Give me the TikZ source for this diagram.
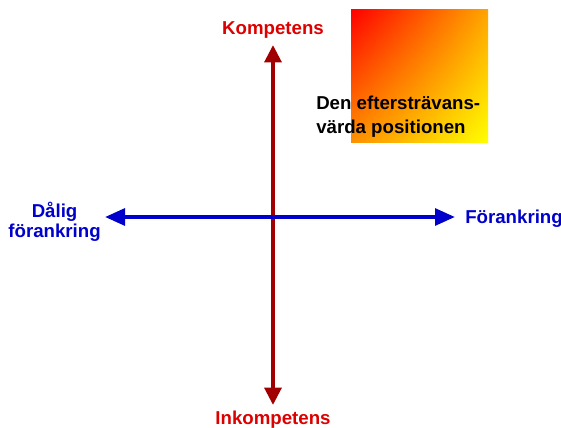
\documentclass[tikz,border=0pt]{standalone}
\usepackage{fontspec}
\setmainfont{Liberation Sans}
\usetikzlibrary{arrows.meta,shadings}
\definecolor{kompred}{RGB}{221,0,0}
\definecolor{axisred}{RGB}{160,0,0}
\definecolor{ankblue}{RGB}{0,0,204}
\definecolor{goalorange}{RGB}{255,165,0}
\definecolor{goalorangeb}{RGB}{255,145,0}

\begin{document}
\begin{tikzpicture}[x=0.75pt, y=-0.75pt,
    lbl/.style={font=\fontsize{14}{15}\selectfont\bfseries, inner sep=0pt},
    axisarrow/.style={line width=3pt, {Triangle[length=#1,width=12.5pt]}-{Triangle[length=#1,width=12.5pt]}}]
  \useasboundingbox (0,0) rectangle (561,428);
  % desired region
  \shade[upper left=red, upper right=goalorange, lower left=goalorangeb, lower right=yellow]
        (351,10) rectangle (488,143);
  \node[lbl, anchor=north west, align=left, font=\fontsize{14}{18}\selectfont\bfseries] (goal) at (316,96)
        {Den eftersträvans-\\värda positionen};
  % labels
  \node[lbl, kompred, anchor=base] (komp) at (273,35) {Kompetens};
  \node[lbl, kompred, anchor=base] (inkomp) at (273,424) {Inkompetens};
  \node[lbl, ankblue, anchor=base east, align=center, font=\fontsize{14}{15}\selectfont\bfseries] (dalig) at (101,237)
        {Dålig\\förankring};
  \node[lbl, ankblue, anchor=base west] (forank) at (465,223) {Förankring};
  % axes
  \coordinate (north) at (273,45);
  \coordinate (south) at (273,405);
  \coordinate (west) at (105,217);
  \coordinate (east) at (455,217);
  \draw[axisarrow=13pt, axisred] (south) -- (north);
  \draw[axisarrow=15pt, ankblue] (west) -- (east);
\end{tikzpicture}
\end{document}
